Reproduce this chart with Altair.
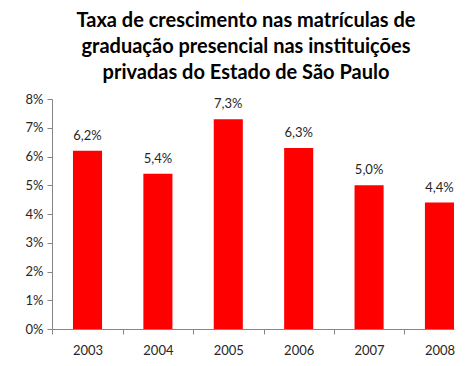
import altair as alt
import pandas as pd

years = ["2003", "2004", "2005", "2006", "2007", "2008"]
rates = [0.062, 0.054, 0.073, 0.063, 0.050, 0.044]
title_lines = ["Taxa de crescimento nas matrículas de",
               "graduação presencial nas instituições",
               "privadas do Estado de São Paulo"]

df = pd.DataFrame({"ano": years, "taxa": rates})

FONT = "Lato"
STEP = 70.3

base = alt.Chart(df).encode(
    x=alt.X("ano:N", sort=years, title=None,
            scale=alt.Scale(paddingInner=0.587, paddingOuter=0.149, align=1),
            axis=alt.Axis(labelAngle=0, labelFont=FONT, labelFontSize=13,
                          labelColor="#262626", domainColor="#868686", tickColor="#868686",
                          tickSize=5, tickOffset=-STEP / 2, labelOffset=STEP / 2,
                          labelPadding=10)),
    y=alt.Y("taxa:Q", title=None,
            scale=alt.Scale(domain=[0, 0.08], nice=False),
            axis=alt.Axis(format=".0%", values=[0, 0.01, 0.02, 0.03, 0.04, 0.05, 0.06, 0.07, 0.08],
                          grid=False, labelFont=FONT, labelFontSize=13, labelColor="#262626",
                          domainColor="#868686", tickColor="#868686", tickSize=5,
                          labelPadding=4)),
)

bars = base.mark_bar(color="#FF0000")
labels = base.transform_calculate(
    lbl="replace(format(datum.taxa, '.1%'), '.', ',')"
).mark_text(font=FONT, fontSize=13, color="#262626", baseline="bottom", dy=-8).encode(
    text="lbl:N")

chart = (bars + labels).properties(
    width=402, height=230,
    title=alt.TitleParams(title_lines, font=FONT, fontSize=20, fontWeight="bold", color="#000000",
                          anchor="middle", dx=-7, lineHeight=26, offset=10),
    padding={"left": 44, "top": 91, "right": 10, "bottom": 30},
    autosize=alt.AutoSizeParams(type="none"),
).configure_view(stroke=None)

chart.save("out.html", embed_options={"renderer": "svg", "actions": False})
